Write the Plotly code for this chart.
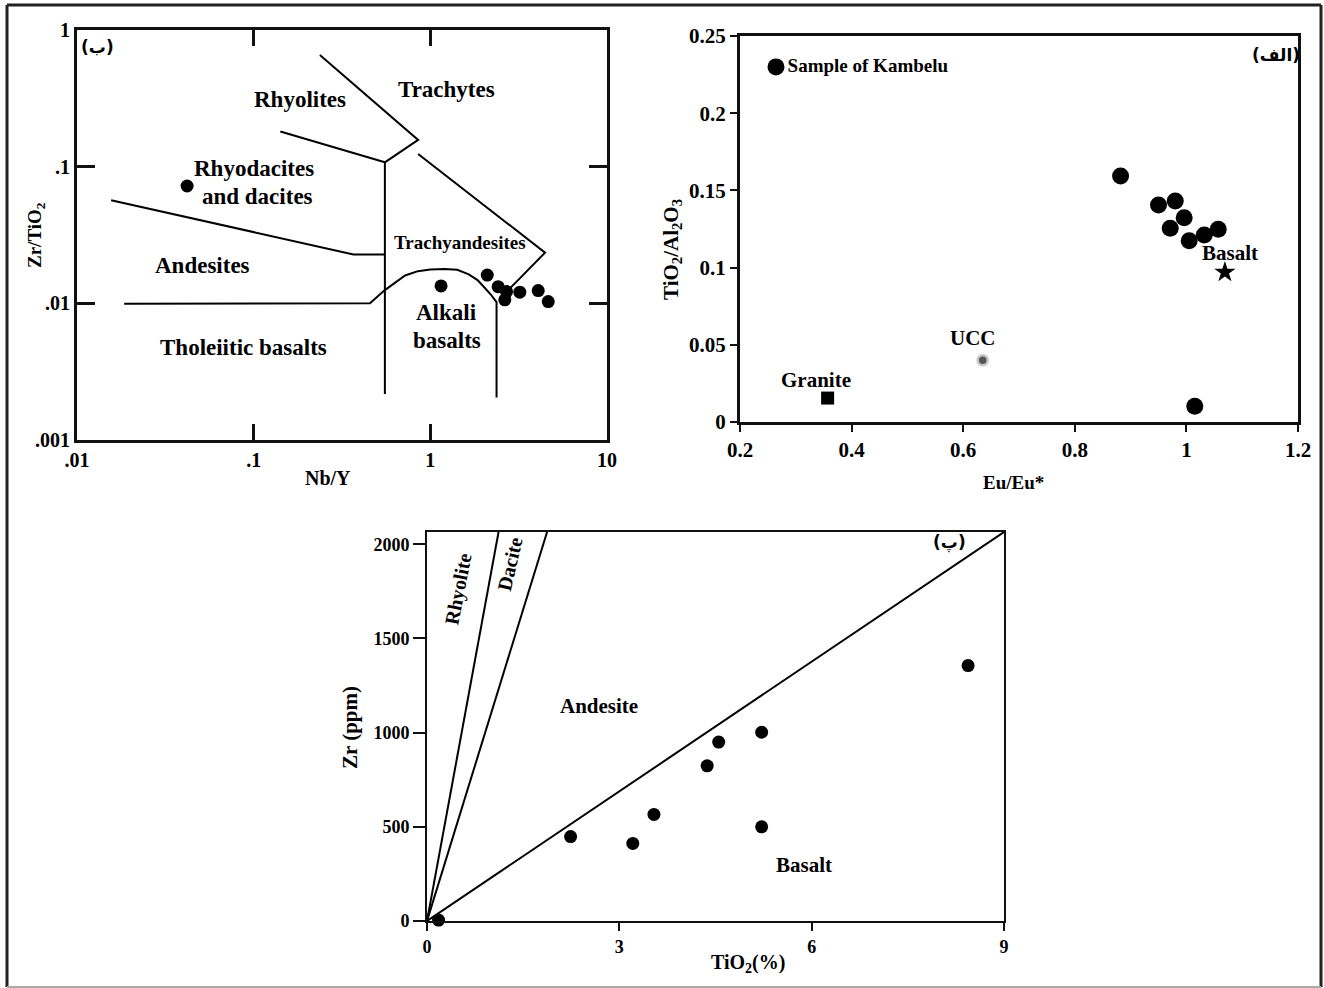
import plotly.graph_objects as go

W, H = 1324, 988
SERIF = "Liberation Serif"
ARAB = "DejaVu Sans"

# ---------- Panel (ب): Zr/TiO2 vs Nb/Y (Winchester & Floyd) ----------
nb_y = [0.042, 1.15, 2.10, 2.42, 2.70, 3.21, 4.08, 4.65, 2.64]
zr_tio2 = [0.0722, 0.0134, 0.0161, 0.01324, 0.0122, 0.01206, 0.0124, 0.0103, 0.0106]

b1_x = [0.237, 0.853, 0.553, 0.553]
b1_y = [0.657, 0.157, 0.1076, 0.00217]
b2_x = [0.1416, 0.553]
b2_y = [0.181, 0.1076]
b3_x = [0.853, 4.46, 2.59]
b3_y = [0.1237, 0.0235, 0.0115]
b4_x = [0.0156, 0.367, 0.553]
b4_y = [0.0568, 0.0228, 0.0228]
b5_x = [0.0185, 0.455, 0.553, 0.63, 0.72, 0.85, 1.0, 1.2, 1.42, 1.65, 1.85, 2.03, 2.2, 2.37, 2.37]
b5_y = [0.00995, 0.0100, 0.0125, 0.0142, 0.0160, 0.0172, 0.0177, 0.0178, 0.0176, 0.0163, 0.0148, 0.0130, 0.0116, 0.0102, 0.00205]

tl_xticks = [0.01, 0.1, 1, 10]
tl_xtext = [".01", ".1", "1", "10"]
tl_yticks = [0.001, 0.01, 0.1, 1]
tl_ytext = [".001", ".01", ".1", "1"]

# ---------- Panel (الف): TiO2/Al2O3 vs Eu/Eu* ----------
eu_eu = [0.882, 0.950, 0.980, 0.996, 0.971, 1.005, 1.032, 1.057, 1.015]
tio2_al2o3 = [0.1593, 0.1405, 0.1431, 0.1323, 0.1255, 0.1174, 0.1211, 0.1248, 0.0102]
legend_pt = [0.2645, 0.230]
granite_pt = [0.357, 0.0155]
ucc_pt = [0.635, 0.040]
basalt_pt = [1.069, 0.097]
tr_xticks = [0.2, 0.4, 0.6, 0.8, 1.0, 1.2]
tr_xtext = ["0.2", "0.4", "0.6", "0.8", "1", "1.2"]
tr_yticks = [0, 0.05, 0.1, 0.15, 0.2, 0.25]
tr_ytext = ["0", "0.05", "0.1", "0.15", "0.2", "0.25"]

# ---------- Panel (پ): Zr vs TiO2 ----------
tio2_pct = [0.18, 2.24, 3.21, 3.54, 4.37, 4.55, 5.22, 5.22, 8.44]
zr_ppm = [5, 448, 412, 566, 824, 950, 1002, 500, 1356]
rhy_x = [0, 1.116]
dac_x = [0, 1.873]
and_x = [0, 9]
div_y = [0, 2065]
bt_xticks = [0, 3, 6, 9]
bt_yticks = [0, 500, 1000, 1500, 2000]

fig = go.Figure()

def line(x, y, xa, ya, width=2):
    fig.add_trace(go.Scatter(x=x, y=y, mode="lines", xaxis=xa, yaxis=ya,
                             line=dict(color="black", width=width),
                             showlegend=False, hoverinfo="skip"))

for bx, by in [(b1_x, b1_y), (b2_x, b2_y), (b3_x, b3_y), (b4_x, b4_y), (b5_x, b5_y)]:
    line(bx, by, "x", "y")
fig.add_trace(go.Scatter(x=nb_y, y=zr_tio2, mode="markers", xaxis="x", yaxis="y",
                         marker=dict(color="black", size=13), showlegend=False))

fig.add_trace(go.Scatter(x=eu_eu, y=tio2_al2o3, mode="markers", xaxis="x2", yaxis="y2",
                         marker=dict(color="black", size=17), showlegend=False))
fig.add_trace(go.Scatter(x=[legend_pt[0]], y=[legend_pt[1]], mode="markers+text", xaxis="x2", yaxis="y2",
                         marker=dict(color="black", size=17), text=["Sample of Kambelu"],
                         textposition="middle right",
                         textfont=dict(family=SERIF, size=19, color="black", weight="bold"),
                         showlegend=False))
fig.add_trace(go.Scatter(x=[granite_pt[0]], y=[granite_pt[1]], mode="markers", xaxis="x2", yaxis="y2",
                         marker=dict(color="black", size=13, symbol="square"), showlegend=False))
fig.add_trace(go.Scatter(x=[ucc_pt[0]], y=[ucc_pt[1]], mode="markers", xaxis="x2", yaxis="y2",
                         marker=dict(color="#555", size=10, line=dict(color="#c8c8c8", width=2.5)),
                         showlegend=False))
fig.add_trace(go.Scatter(x=[basalt_pt[0]], y=[basalt_pt[1]], mode="markers", xaxis="x2", yaxis="y2",
                         marker=dict(color="black", size=16, symbol="star"), showlegend=False))

for lx in [rhy_x, dac_x, and_x]:
    line(lx, div_y, "x3", "y3", width=2)
fig.add_trace(go.Scatter(x=tio2_pct, y=zr_ppm, mode="markers", xaxis="x3", yaxis="y3",
                         marker=dict(color="black", size=13), showlegend=False, cliponaxis=False))

def px_dom_x(a, b):
    return [a / W, b / W]

def px_dom_y(top, bottom):
    return [1 - bottom / H, 1 - top / H]

tickfont_tl = dict(family=SERIF, size=20, color="black", weight="bold")
tickfont_tr = dict(family=SERIF, size=21, color="black", weight="bold")
tickfont_bt = dict(family=SERIF, size=18, color="black", weight="bold")

common = dict(showgrid=False, zeroline=False, showline=True, linecolor="#111", automargin=False)

fig.update_layout(
    width=W, height=H, margin=dict(l=0, r=0, t=0, b=0),
    paper_bgcolor="white", plot_bgcolor="white", showlegend=False,
    xaxis=dict(domain=px_dom_x(77, 607), type="log", range=[-2, 1], anchor="y",
               tickvals=tl_xticks, ticktext=tl_xtext, ticks="inside", ticklen=16, tickwidth=3,
               tickcolor="#111", mirror="allticks", linewidth=3, tickfont=tickfont_tl, **common),
    yaxis=dict(domain=px_dom_y(30, 440), type="log", range=[-3, 0], anchor="x",
               tickvals=tl_yticks, ticktext=tl_ytext, ticks="inside", ticklen=18, tickwidth=3,
               tickcolor="#111", mirror="allticks", linewidth=3, tickfont=tickfont_tl, **common),
    xaxis2=dict(domain=px_dom_x(740, 1298), range=[0.2, 1.2], anchor="y2",
                tickvals=tr_xticks, ticktext=tr_xtext, ticks="outside", ticklen=7, tickwidth=2,
                tickcolor="#111", mirror=True, linewidth=3, tickfont=tickfont_tr, **common),
    yaxis2=dict(domain=px_dom_y(36, 422), range=[0, 0.25], anchor="x2",
                tickvals=tr_yticks, ticktext=tr_ytext, ticks="outside", ticklen=7, tickwidth=2,
                tickcolor="#111", mirror=True, linewidth=3, tickfont=tickfont_tr, **common),
    xaxis3=dict(domain=px_dom_x(427, 1004), range=[0, 9], anchor="y3",
                tickvals=bt_xticks, ticks="outside", ticklen=8, tickwidth=2,
                tickcolor="#111", mirror=True, linewidth=2, tickfont=tickfont_bt, **common),
    yaxis3=dict(domain=px_dom_y(532, 921), range=[0, 2065], anchor="x3",
                tickvals=bt_yticks, ticks="outside", ticklen=12, tickwidth=2,
                tickcolor="#111", mirror=True, linewidth=2, tickfont=tickfont_bt, **common),
)

ann = []

def A(text, x, y, xref, yref, size, angle=0, family=SERIF):
    ann.append(dict(text=text, x=x, y=y, xref=xref, yref=yref, showarrow=False,
                    xanchor="center", yanchor="middle", textangle=angle,
                    font=dict(family=family, size=size, color="black", weight="bold")))

# top-left labels (domain coords)
A("(ب)", 0.038, 0.9585, "x domain", "y domain", 17, family=ARAB)
A("Rhyolites", 0.4208, 0.8317, "x domain", "y domain", 23)
A("Trachytes", 0.698, 0.8537, "x domain", "y domain", 23)
A("Rhyodacites", 0.334, 0.6634, "x domain", "y domain", 23)
A("and dacites", 0.3415, 0.595, "x domain", "y domain", 23)
A("Andesites", 0.2377, 0.4268, "x domain", "y domain", 23)
A("Trachyandesites", 0.7226, 0.4805, "x domain", "y domain", 19)
A("Tholeiitic basalts", 0.315, 0.2244, "x domain", "y domain", 23)
A("Alkali", 0.698, 0.3098, "x domain", "y domain", 23)
A("basalts", 0.698, 0.2415, "x domain", "y domain", 23)

# top-right labels
A("(الف)", 0.9606, 0.951, "x2 domain", "y2 domain", 17, family=ARAB)
A("Basalt", 1.078, 0.1095, "x2", "y2", 21)
A("UCC", 0.6176, 0.0544, "x2", "y2", 21)
A("Granite", 0.336, 0.0272, "x2", "y2", 21)

# bottom labels
A("(پ)", 0.906, 0.972, "x3 domain", "y3 domain", 17, family=ARAB)
A("Andesite", 2.683, 1141, "x3", "y3", 21)
A("Basalt", 5.88, 297, "x3", "y3", 21)
A("Rhyolite", 0.4835, 1762, "x3", "y3", 20, angle=-79)
A("Dacite", 1.295, 1894, "x3", "y3", 20, angle=-77)

# axis titles (paper coords)
A("Nb/Y", 328 / W, 1 - 478 / H, "paper", "paper", 20)
A("Zr/TiO<sub>2</sub>", 36 / W, 1 - 235 / H, "paper", "paper", 19, angle=-90)
A("Eu/Eu*", 1013 / W, 1 - 483 / H, "paper", "paper", 19)
A("TiO<sub>2</sub>/Al<sub>2</sub>O<sub>3</sub>", 672 / W, 1 - 250 / H, "paper", "paper", 21, angle=-90)
A("Zr (ppm)", 350 / W, 1 - 728 / H, "paper", "paper", 21, angle=-90)
A("TiO<sub>2</sub>(%)", 748 / W, 1 - 963 / H, "paper", "paper", 20)

fig.update_layout(annotations=ann)

# outer frame of the figure
frame = [
    dict(x0=7 / W, x1=7 / W, y0=1 - 987 / H, y1=1 - 5 / H, color="#222", w=3),
    dict(x0=7 / W, x1=1321 / W, y0=1 - 5 / H, y1=1 - 5 / H, color="#222", w=3),
    dict(x0=1321 / W, x1=1321 / W, y0=1 - 987 / H, y1=1 - 5 / H, color="#222", w=3),
    dict(x0=7 / W, x1=1321 / W, y0=1 - 987 / H, y1=1 - 987 / H, color="#aaa", w=2),
]
fig.update_layout(shapes=[dict(type="line", xref="paper", yref="paper", x0=f["x0"], x1=f["x1"],
                               y0=f["y0"], y1=f["y1"], line=dict(color=f["color"], width=f["w"]))
                          for f in frame])

fig.write_html("out.html")
